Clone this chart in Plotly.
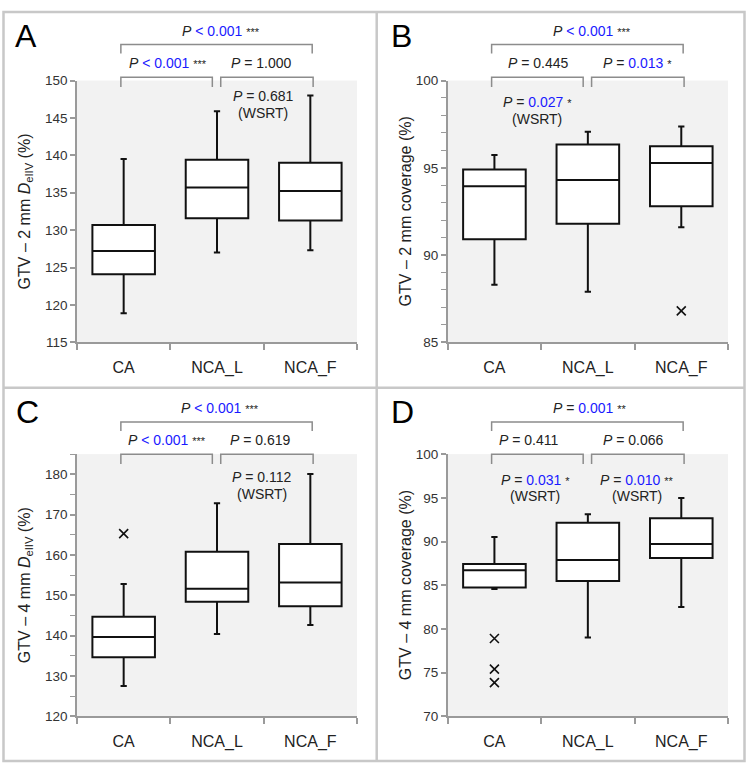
import plotly.graph_objects as go

W, H = 750, 772

categories = ["CA", "NCA_L", "NCA_F"]
cat_pos = [0, 1, 2]

# Panel A: GTV - 2 mm D_eIIV (%)
a_low = [118.9, 127.0, 127.3]
a_q1 = [124.1, 131.6, 131.3]
a_med = [127.2, 135.7, 135.25]
a_q3 = [130.7, 139.4, 139.0]
a_high = [139.5, 145.9, 148.0]
a_out_x = []
a_out_y = []

# Panel B: GTV - 2 mm coverage (%)
b_low = [88.3, 87.9, 91.6]
b_q1 = [90.9, 91.8, 92.8]
b_med = [93.95, 94.3, 95.27]
b_q3 = [94.9, 96.33, 96.24]
b_high = [95.74, 97.06, 97.36]
b_out_x = [2]
b_out_y = [86.8]

# Panel C: GTV - 4 mm D_eIIV (%)
c_low = [127.5, 140.4, 142.6]
c_q1 = [134.6, 148.4, 147.25]
c_med = [139.65, 151.6, 153.15]
c_q3 = [144.7, 160.8, 162.7]
c_high = [152.8, 172.8, 180.1]
c_out_x = [0]
c_out_y = [165.3]

# Panel D: GTV - 4 mm coverage (%)
d_low = [84.55, 79.0, 82.5]
d_q1 = [84.74, 85.48, 88.1]
d_med = [86.72, 87.88, 89.71]
d_q3 = [87.43, 92.14, 92.67]
d_high = [90.53, 93.12, 94.99]
d_out_x = [0, 0, 0]
d_out_y = [78.9, 75.4, 73.85]

FONT = "Liberation Sans, Arial, sans-serif"
BLUE = "#1a1aff"
TXT = "#222222"
AX = "#9a9a9a"
BR = "#8c8c8c"


def fx(p):
    return p / W


def fy(p):
    return 1 - p / H


def star(s):
    return " <span style='font-size:11px'>%s</span>" % s if s else ""


def pv(txt, blue=None, stars=""):
    s = "<i>P</i> "
    if blue:
        s += "<span style='color:%s'>%s</span>" % (BLUE, txt)
    else:
        s += txt
    return s + star(stars)


def pvb(val, stars=""):
    return "<i>P</i> = <span style='color:%s'>%s</span>" % (BLUE, val) + star(stars)


panels = [
    dict(low=a_low, q1=a_q1, med=a_med, q3=a_q3, high=a_high, ox=a_out_x, oy=a_out_y,
         xdom=(77, 357), ydom=(75, 342), yr=[115, 150], dtick=5, minor=None,
         title="GTV – 2 mm <i>D</i><sub>eIIV</sub> (%)", tx=25, letter="A", lx=13, ly=30,
         br=(38.3, 47.5, 71.7, 81.5),
         texts=[(pv("&lt; 0.001", True, "***"), 221, 24),
                (pv("&lt; 0.001", True, "***"), 168, 57),
                (pv("= 1.000"), 261.5, 57),
                (pv("= 0.681"), 263, 91),
                ("(WSRT)", 263, 108)]),
    dict(low=b_low, q1=b_q1, med=b_med, q3=b_q3, high=b_high, ox=b_out_x, oy=b_out_y,
         xdom=(447.7, 728), ydom=(75, 342), yr=[85, 100], dtick=5, minor=1,
         title="GTV – 2 mm coverage (%)", tx=405, letter="B", lx=389, ly=30,
         br=(38.3, 47.5, 71.7, 81.5),
         texts=[(pv("&lt; 0.001", True, "***"), 592, 24),
                (pv("= 0.445"), 538, 57),
                (pvb("0.013", "*"), 637, 57),
                (pvb("0.027", "*"), 537, 97),
                ("(WSRT)", 537, 114)]),
    dict(low=c_low, q1=c_q1, med=c_med, q3=c_q3, high=c_high, ox=c_out_x, oy=c_out_y,
         xdom=(77, 357), ydom=(456, 723.3), yr=[120, 185], dtick=10, minor=5,
         title="GTV – 4 mm <i>D</i><sub>eIIV</sub> (%)", tx=25, letter="C", lx=14, ly=413,
         br=(423.3, 432.5, 456, 466),
         texts=[(pv("&lt; 0.001", True, "***"), 220, 408.7),
                (pv("&lt; 0.001", True, "***"), 167, 442),
                (pv("= 0.619"), 260, 442),
                (pv("= 0.112"), 262, 479),
                ("(WSRT)", 262, 497)]),
    dict(low=d_low, q1=d_q1, med=d_med, q3=d_q3, high=d_high, ox=d_out_x, oy=d_out_y,
         xdom=(447.7, 728), ydom=(456, 723.3), yr=[70, 100], dtick=5, minor=None,
         title="GTV – 4 mm coverage (%)", tx=405, letter="D", lx=389, ly=413,
         br=(423.3, 432.5, 456, 466),
         texts=[(pvb("0.001", "**"), 589.5, 408.7),
                (pv("= 0.411"), 529, 442),
                (pv("= 0.066"), 633, 442),
                (pvb("0.031", "*"), 535, 482),
                ("(WSRT)", 535, 499),
                (pvb("0.010", "**"), 637, 482),
                ("(WSRT)", 637, 499)]),
]

fig = go.Figure()
layout = dict(
    width=W, height=H, margin=dict(l=0, r=0, t=0, b=0),
    paper_bgcolor="white", plot_bgcolor="#f2f2f2",
    showlegend=False, font=dict(family=FONT, color=TXT),
)
shapes = []
annotations = []

for i, p in enumerate(panels):
    n = "" if i == 0 else str(i + 1)
    xa, ya = "x" + n, "y" + n
    fig.add_trace(go.Box(
        x=cat_pos, q1=p["q1"], median=p["med"], q3=p["q3"],
        lowerfence=p["low"], upperfence=p["high"],
        width=0.67, whiskerwidth=0.1, fillcolor="white",
        line=dict(color="#111111", width=2), boxpoints=False,
        xaxis=xa, yaxis=ya, hoverinfo="skip"))
    if p["ox"]:
        fig.add_trace(go.Scatter(
            x=p["ox"], y=p["oy"], mode="markers", xaxis=xa, yaxis=ya,
            marker=dict(symbol="x-thin", size=9, line=dict(color="#111111", width=1.6)),
            hoverinfo="skip"))
    xd = (fx(p["xdom"][0]), fx(p["xdom"][1]))
    yd = (fy(p["ydom"][1]), fy(p["ydom"][0]))
    layout["xaxis" + n] = dict(
        domain=list(xd), anchor=ya, range=[-0.5, 2.5],
        tickmode="array", tickvals=cat_pos, ticktext=categories,
        ticks="outside", ticklen=10, tickcolor="rgba(0,0,0,0)",
        tickfont=dict(size=16, color=TXT, family=FONT),
        showline=True, linecolor=AX, linewidth=1.5, showgrid=False, zeroline=False,
        minor=dict(tickmode="array", tickvals=[-0.5, 0.5, 1.5, 2.5], ticks="outside",
                   ticklen=6, tickcolor=AX, tickwidth=1.5, showgrid=False),
        fixedrange=True)
    yax = dict(
        domain=list(yd), anchor=xa, range=p["yr"], tick0=p["yr"][0], dtick=p["dtick"],
        ticks="outside", ticklen=5, tickcolor=AX, tickwidth=1.5,
        tickfont=dict(size=13.5, color="#333333", family=FONT),
        showline=True, linecolor=AX, linewidth=1.5, showgrid=False, zeroline=False,
        fixedrange=True)
    if p["minor"]:
        yax["minor"] = dict(dtick=p["minor"], ticks="outside", ticklen=5,
                            tickcolor=AX, tickwidth=1.2, showgrid=False)
    layout["yaxis" + n] = yax

    # y-axis title
    annotations.append(dict(
        text=p["title"], x=fx(p["tx"]), y=(yd[0] + yd[1]) / 2, xref="paper", yref="paper",
        textangle=-90, showarrow=False, xanchor="center", yanchor="middle",
        font=dict(size=16, color=TXT, family=FONT)))
    # panel letter
    annotations.append(dict(
        text=p["letter"], x=fx(p["lx"]), y=fy(p["ly"]), xref="paper", yref="paper",
        showarrow=False, xanchor="left", yanchor="middle",
        font=dict(size=32, color="#000000", family=FONT)))
    for t, tx, ty in p["texts"]:
        annotations.append(dict(
            text=t, x=fx(tx), y=fy(ty), xref="paper", yref="paper",
            showarrow=False, xanchor="center", yanchor="middle",
            font=dict(size=14, color=TXT, family=FONT)))

    # brackets
    def xp(v):
        return xd[0] + (v + 0.5) / 3 * (xd[1] - xd[0])

    top_y, top_leg, low_y, low_leg = p["br"]
    for (a, b, yt, yl) in [(0 - 0.03, 2 + 0.02, top_y, top_leg),
                           (0 - 0.03, 1 - 0.05, low_y, low_leg),
                           (1 + 0.04, 2 + 0.03, low_y, low_leg)]:
        x1, x2 = xp(a), xp(b)
        shapes.append(dict(
            type="path", xref="paper", yref="paper",
            path="M %f,%f L %f,%f L %f,%f L %f,%f" % (x1, fy(yl), x1, fy(yt), x2, fy(yt), x2, fy(yl)),
            line=dict(color=BR, width=1.5)))

# panel frames
FR = "#c8c8c8"
shapes.append(dict(type="rect", xref="paper", yref="paper",
                   x0=fx(3.5), x1=fx(744.5), y0=fy(769), y1=fy(5),
                   line=dict(color=FR, width=2.5)))
shapes.append(dict(type="line", xref="paper", yref="paper",
                   x0=fx(376.7), x1=fx(376.7), y0=fy(769), y1=fy(5),
                   line=dict(color=FR, width=2.5)))
shapes.append(dict(type="line", xref="paper", yref="paper",
                   x0=fx(3.5), x1=fx(744.5), y0=fy(388.3), y1=fy(388.3),
                   line=dict(color=FR, width=2.5)))

layout["shapes"] = shapes
layout["annotations"] = annotations
fig.update_layout(**layout)

fig.write_html("out.html", config={"displayModeBar": False},
               post_script="document.body.style.margin='0';")
